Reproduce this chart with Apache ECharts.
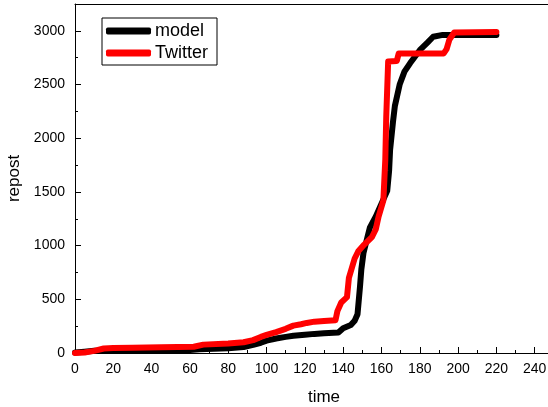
<!DOCTYPE html>
<html>
<head>
<meta charset="utf-8">
<script src="https://cdn.jsdelivr.net/npm/echarts@6/dist/echarts.min.js"></script>
<style>
  html, body { margin: 0; padding: 0; background: #fff; }
  #chart { width: 548px; height: 407px; }
</style>
</head>
<body>
<div id="chart"></div>
<script>
// [time, repost] points
const modelData = [
  [0, 5], [5, 12], [10, 20], [15, 22], [60, 27], [65, 35], [80, 45], [88, 55],
  [93, 75], [97, 95], [100, 115], [105, 135], [110, 150], [114, 160], [120, 170],
  [125, 178], [130, 183], [137.5, 190], [140, 230], [144, 260], [146, 300],
  [147.5, 360], [148.8, 620], [149.5, 780], [150.6, 930], [152, 1030], [154, 1170],
  [157, 1270], [159.5, 1370], [163, 1510], [164, 1700], [164.5, 1890], [166, 2150],
  [167, 2300], [169.5, 2500], [172, 2620], [175, 2700], [180, 2820], [184, 2890],
  [187, 2945], [192, 2962], [220, 2962]
]
const twitterData = [
  [0, 0], [5, 5], [10, 20], [15, 42], [20, 47], [30, 50], [45, 53], [62, 58],
  [67, 78], [80, 88], [88, 100], [93, 120], [97, 150], [100, 168], [105, 195],
  [110, 225], [114, 255], [118, 268], [121, 280], [125, 292], [130, 298], [136, 305],
  [137, 390], [139, 470], [142, 520], [143, 700], [146, 880], [148, 950], [151, 1010],
  [155, 1080], [157, 1150], [158.5, 1270], [161, 1420], [162, 1800], [162.5, 2200],
  [163.5, 2715], [168, 2720], [169, 2790], [192.5, 2790], [194, 2830], [195.5, 2920],
  [198, 2985], [220, 2990]
]
const seriesNames = ['model', 'Twitter']

const font = 'Liberation Sans'
const plain = (v) => String(v)

const chart = echarts.init(document.getElementById('chart'))
chart.setOption({
  animation: false,
  color: ['#000000', '#ff0000'],
  grid: { left: 75, right: -25, top: 4, bottom: 54, outerBoundsMode: 'none', containLabel: false },
  legend: {
    data: seriesNames,
    orient: 'vertical',
    left: 102,
    top: 18,
    icon: 'roundRect',
    itemWidth: 45,
    itemHeight: 7,
    itemGap: 4,
    padding: [4, 9, 3, 4],
    borderColor: '#000',
    borderWidth: 1,
    textStyle: { fontFamily: font, fontSize: 18, color: '#000', padding: [0, 0, 0, -1] }
  },
  xAxis: [
    {
      type: 'value',
      min: 0,
      max: 260,
      interval: 20,
      name: 'time',
      nameLocation: 'middle',
      nameGap: 36,
      nameTextStyle: { fontFamily: font, fontSize: 17, color: '#000' },
      axisLine: { lineStyle: { color: '#000', width: 1 } },
      axisTick: { inside: true, length: 6, lineStyle: { color: '#000' } },
      minorTick: { show: true, splitNumber: 2, length: 3, lineStyle: { color: '#000' } },
      axisLabel: { fontFamily: font, fontSize: 14, color: '#000', margin: 9, formatter: plain },
      splitLine: { show: false }
    },
    {
      type: 'value',
      position: 'top',
      min: 0,
      max: 260,
      axisLine: { show: true, onZero: false, lineStyle: { color: '#000', width: 1 } },
      axisTick: { show: false },
      axisLabel: { show: false },
      splitLine: { show: false }
    }
  ],
  yAxis: {
    type: 'value',
    min: 0,
    max: 3250,
    interval: 500,
    name: 'repost',
    nameLocation: 'middle',
    nameGap: 51,
    nameTextStyle: { fontFamily: font, fontSize: 17, color: '#000' },
    axisLine: { show: true, lineStyle: { color: '#000', width: 1 } },
    axisTick: { inside: true, length: 6, lineStyle: { color: '#000' } },
    minorTick: { show: true, splitNumber: 2, length: 3, lineStyle: { color: '#000' } },
    axisLabel: { fontFamily: font, fontSize: 14, color: '#000', margin: 10, showMaxLabel: false, formatter: plain },
    splitLine: { show: false }
  },
  series: [
    {
      name: seriesNames[0],
      type: 'line',
      data: modelData,
      showSymbol: false,
      lineStyle: { width: 6, cap: 'round', join: 'round' }
    },
    {
      name: seriesNames[1],
      type: 'line',
      data: twitterData,
      showSymbol: false,
      lineStyle: { width: 6, cap: 'round', join: 'round' }
    }
  ]
})
</script>
</body>
</html>
